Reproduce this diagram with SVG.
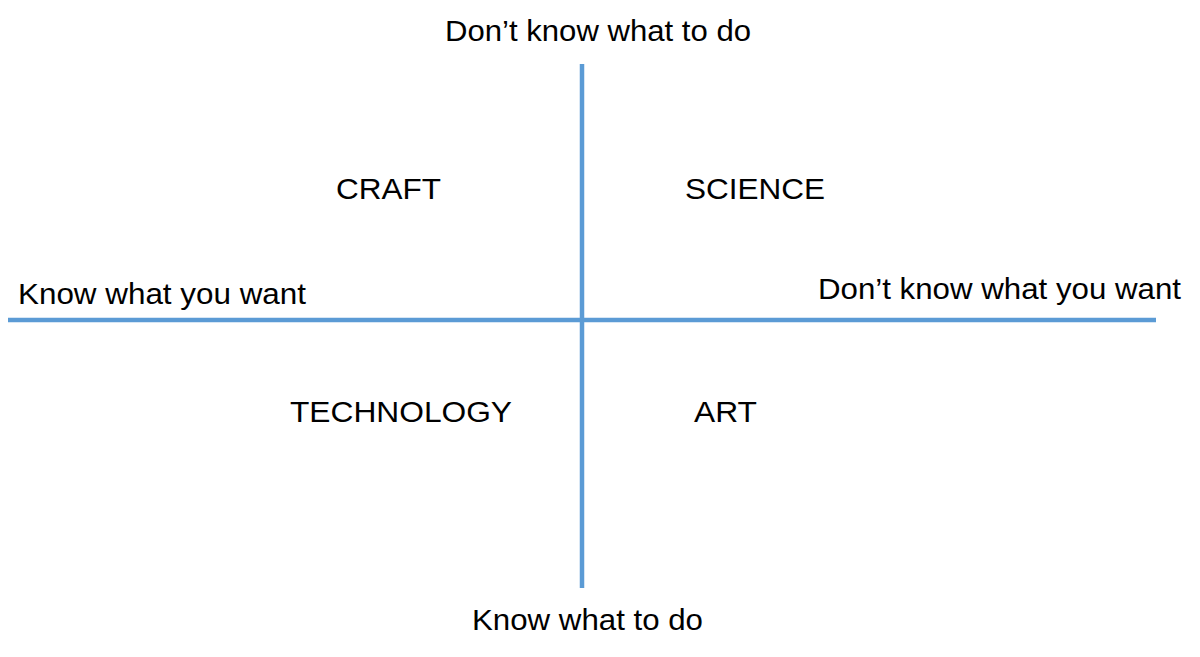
<svg xmlns="http://www.w3.org/2000/svg" width="1200" height="657" viewBox="0 0 1200 657">
<style>
.axis{stroke:#5b9bd5;stroke-width:4.5;fill:none}
text{font-family:"Liberation Sans",Arial,sans-serif;font-size:29px;fill:#000}
</style>
<rect width="1200" height="657" fill="#fff"/>
<g id="connectors">
<line class="axis" x1="582" y1="64" x2="582" y2="588"/>
<line class="axis" x1="8" y1="320" x2="1156" y2="320"/>
</g>
<g id="top"><text x="445" y="41" textLength="306" lengthAdjust="spacingAndGlyphs">Don’t know what to do</text></g>
<g id="bottom"><text x="472" y="630" textLength="231" lengthAdjust="spacingAndGlyphs">Know what to do</text></g>
<g id="left"><text x="18" y="304" textLength="288" lengthAdjust="spacingAndGlyphs">Know what you want</text></g>
<g id="right"><text x="818" y="299" textLength="363" lengthAdjust="spacingAndGlyphs">Don’t know what you want</text></g>
<g id="craft"><text x="336" y="199" textLength="105" lengthAdjust="spacingAndGlyphs">CRAFT</text></g>
<g id="science"><text x="685" y="199" textLength="140" lengthAdjust="spacingAndGlyphs">SCIENCE</text></g>
<g id="technology"><text x="290" y="422" textLength="222" lengthAdjust="spacingAndGlyphs">TECHNOLOGY</text></g>
<g id="art"><text x="694" y="422" textLength="63" lengthAdjust="spacingAndGlyphs">ART</text></g>
</svg>
